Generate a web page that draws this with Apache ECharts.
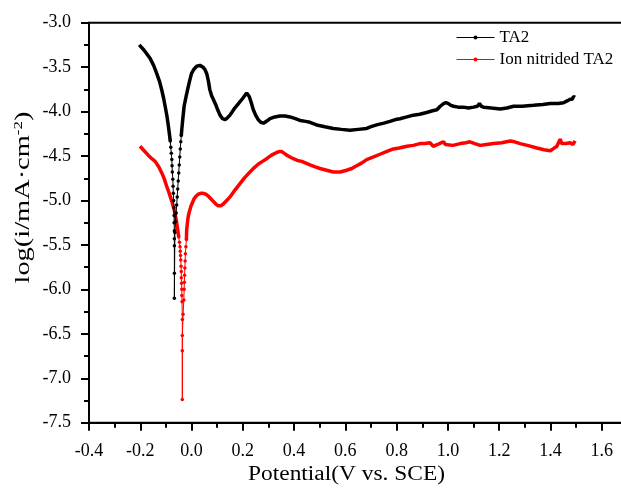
<!DOCTYPE html>
<html>
<head>
<meta charset="utf-8">
<title>Polarization curves</title>
<script src="https://cdn.jsdelivr.net/npm/echarts@6/dist/echarts.min.js"></script>
</head>
<body style="margin:0;background:#fff">
<div id="main" style="width:621px;height:488px;"></div>
<script>
// TA2: cathodic branch, dotted region near Ecorr, anodic branch  [V vs SCE, log i]
var taCathodic = [[-0.204,-3.25],[-0.185,-3.31],[-0.162,-3.40],[-0.148,-3.48],[-0.136,-3.57],[-0.125,-3.66],[-0.116,-3.76],[-0.109,-3.85],[-0.103,-3.94],[-0.096,-4.05],[-0.090,-4.17],[-0.086,-4.26],[-0.083,-4.33]];
var taTail = [[-0.083,-4.33],[-0.081,-4.40],[-0.079,-4.47],[-0.077,-4.54],[-0.076,-4.61],[-0.075,-4.68],[-0.073,-4.76],[-0.072,-4.84],[-0.071,-4.92],[-0.070,-5.00],[-0.069,-5.08],[-0.068,-5.17],[-0.068,-5.25],[-0.067,-5.34],[-0.067,-5.43],[-0.067,-5.51],[-0.067,-5.82],[-0.067,-6.10],
  [-0.065,-5.36],[-0.063,-5.24],[-0.060,-5.14],[-0.058,-5.05],[-0.056,-4.96],[-0.054,-4.87],[-0.052,-4.78],[-0.050,-4.69],[-0.048,-4.60],[-0.046,-4.51],[-0.044,-4.42],[-0.042,-4.34],[-0.040,-4.27]];
var taAnodic = [[-0.040,-4.27],[-0.038,-4.20],[-0.034,-4.08],[-0.029,-3.94],[-0.022,-3.84],[-0.016,-3.76],[-0.008,-3.66],[0.000,-3.57],[0.010,-3.52],[0.020,-3.49],[0.033,-3.48],[0.045,-3.50],[0.053,-3.53],[0.060,-3.58],[0.066,-3.66],[0.071,-3.75],[0.078,-3.82],[0.086,-3.87],[0.094,-3.92],[0.102,-3.98],[0.111,-4.04],[0.121,-4.08],[0.131,-4.09],[0.140,-4.07],[0.150,-4.04],[0.166,-3.97],[0.183,-3.91],[0.200,-3.85],[0.215,-3.79],[0.225,-3.83],[0.233,-3.90],[0.241,-3.98],[0.250,-4.04],[0.260,-4.09],[0.270,-4.12],[0.280,-4.13],[0.292,-4.11],[0.306,-4.08],[0.325,-4.06],[0.345,-4.05],[0.365,-4.05],[0.384,-4.06],[0.405,-4.08],[0.423,-4.10],[0.445,-4.11],[0.462,-4.12],[0.488,-4.15],[0.52,-4.17],[0.553,-4.19],[0.585,-4.20],[0.618,-4.21],[0.65,-4.20],[0.683,-4.19],[0.70,-4.17],[0.722,-4.15],[0.75,-4.13],[0.774,-4.11],[0.795,-4.09],[0.813,-4.08],[0.84,-4.06],[0.865,-4.04],[0.89,-4.03],[0.917,-4.01],[0.94,-3.99],[0.957,-3.98],[0.970,-3.94],[0.983,-3.91],[0.992,-3.90],[1.002,-3.91],[1.012,-3.93],[1.022,-3.94],[1.04,-3.95],[1.06,-3.95],[1.08,-3.96],[1.10,-3.95],[1.115,-3.94],[1.123,-3.91],[1.130,-3.94],[1.139,-3.95],[1.17,-3.96],[1.204,-3.97],[1.23,-3.96],[1.256,-3.94],[1.29,-3.94],[1.334,-3.93],[1.37,-3.92],[1.399,-3.91],[1.43,-3.91],[1.451,-3.90],[1.465,-3.88],[1.477,-3.86],[1.485,-3.86],[1.490,-3.83],[1.496,-3.84]];

// Ion nitrided TA2
var ionCathodic = [[-0.201,-4.39],[-0.185,-4.44],[-0.169,-4.49],[-0.155,-4.53],[-0.142,-4.56],[-0.128,-4.62],[-0.116,-4.69],[-0.106,-4.76],[-0.097,-4.84],[-0.087,-4.92],[-0.077,-5.01],[-0.071,-5.07],[-0.065,-5.14],[-0.059,-5.23],[-0.054,-5.33],[-0.050,-5.41]];
var ionTail = [[-0.050,-5.41],[-0.047,-5.47],[-0.045,-5.52],[-0.044,-5.57],[-0.043,-5.62],[-0.042,-5.67],[-0.041,-5.74],[-0.040,-5.80],[-0.040,-5.87],[-0.039,-5.93],[-0.038,-6.00],[-0.038,-6.07],[-0.037,-6.14],[-0.036,-6.34],[-0.036,-6.69],[-0.036,-7.24],[-0.036,-6.52],[-0.033,-6.28],[-0.030,-6.12],
  [-0.029,-6.00],[-0.028,-5.92],[-0.027,-5.84],[-0.026,-5.76],[-0.025,-5.68],[-0.024,-5.60],[-0.022,-5.52],[-0.020,-5.44]];
var ionAnodic = [[-0.020,-5.44],[-0.019,-5.33],[-0.016,-5.25],[-0.013,-5.18],[-0.008,-5.12],[-0.003,-5.07],[0.004,-5.02],[0.010,-4.98],[0.018,-4.95],[0.026,-4.93],[0.036,-4.92],[0.046,-4.92],[0.056,-4.93],[0.065,-4.95],[0.075,-4.98],[0.085,-5.01],[0.095,-5.04],[0.104,-5.06],[0.114,-5.06],[0.124,-5.04],[0.137,-5.00],[0.150,-4.96],[0.170,-4.88],[0.189,-4.81],[0.208,-4.74],[0.228,-4.68],[0.245,-4.63],[0.261,-4.59],[0.277,-4.56],[0.293,-4.53],[0.312,-4.49],[0.332,-4.46],[0.342,-4.45],[0.352,-4.45],[0.362,-4.47],[0.371,-4.49],[0.384,-4.51],[0.397,-4.53],[0.413,-4.55],[0.430,-4.56],[0.446,-4.58],[0.462,-4.60],[0.480,-4.62],[0.501,-4.64],[0.527,-4.66],[0.553,-4.68],[0.58,-4.68],[0.605,-4.66],[0.625,-4.64],[0.644,-4.61],[0.663,-4.58],[0.683,-4.54],[0.71,-4.51],[0.735,-4.48],[0.76,-4.45],[0.787,-4.42],[0.81,-4.41],[0.84,-4.39],[0.865,-4.38],[0.891,-4.36],[0.91,-4.36],[0.93,-4.35],[0.937,-4.37],[0.943,-4.39],[0.96,-4.37],[0.975,-4.35],[0.983,-4.34],[0.990,-4.37],[0.996,-4.39],[1.02,-4.38],[1.048,-4.36],[1.07,-4.35],[1.086,-4.34],[1.105,-4.36],[1.126,-4.38],[1.15,-4.37],[1.178,-4.36],[1.21,-4.35],[1.243,-4.33],[1.26,-4.34],[1.282,-4.36],[1.31,-4.38],[1.347,-4.41],[1.375,-4.43],[1.399,-4.44],[1.41,-4.42],[1.425,-4.39],[1.433,-4.34],[1.438,-4.31],[1.444,-4.36],[1.451,-4.38],[1.46,-4.36],[1.477,-4.35],[1.488,-4.37],[1.496,-4.33]];

var names = ['TA2', 'Ion nitrided TA2'];
var colors = ['#000000', '#ff0000'];

var FONT = '"Liberation Serif", "Times New Roman", serif';

function thick(name, color, data) {
    return {
        name: name, type: 'line', data: data,
        showSymbol: false, symbol: 'none',
        lineStyle: { color: color, width: 3.5 },
        itemStyle: { color: color },
        silent: true
    };
}
function dotted(name, color, data) {
    return {
        name: name, type: 'line', data: data,
        symbol: 'circle', symbolSize: 3.5, showSymbol: true,
        lineStyle: { color: color, width: 1 },
        itemStyle: { color: color },
        silent: true
    };
}

var myChart = echarts.init(document.getElementById('main'));
var option = {
    animation: false,
    backgroundColor: '#fff',
    grid: {
        left: 89, top: 22.7, width: 564, height: 400,
        outerBoundsMode: 'none', containLabel: false,
        show: true, borderColor: '#000', borderWidth: 2
    },
    legend: {
        data: names,
        orient: 'vertical',
        left: 456, top: 29, padding: 0,
        itemWidth: 38, itemHeight: 5, itemGap: 5,
        lineStyle: { width: 1 },
        textStyle: { fontFamily: FONT, fontSize: 17, color: '#000' }
    },
    // axis titles (the source figure draws them stretched along their length)
    graphic: [
        {
            type: 'text', x: 346.5, y: 475, scaleX: 1.17,
            style: { text: 'Potential(V vs. SCE)', font: '20px ' + FONT, fill: '#000',
                align: 'center', verticalAlign: 'middle' }
        },
        {
            type: 'text', x: 24, y: 197.5, rotation: Math.PI / 2, scaleX: 1.42,
            style: { text: 'log(i/mA·cm{sup|-2})', font: '20px ' + FONT, fill: '#000',
                align: 'center', verticalAlign: 'middle',
                rich: {
                    sup: { font: '12px ' + FONT, fill: '#000', verticalAlign: 'top', lineHeight: 22 }
                } }
        }
    ],
    xAxis: {
        type: 'value', min: -0.4, max: 1.8, interval: 0.2,
        axisLine: { onZero: false, lineStyle: { color: '#000', width: 2 } },
        axisTick: { length: 8, lineStyle: { color: '#000', width: 2 } },
        minorTick: { show: true, splitNumber: 2, length: 5, lineStyle: { color: '#000', width: 2 } },
        axisLabel: { fontFamily: FONT, fontSize: 18, color: '#000', margin: 20,
            formatter: function (v) { return v.toFixed(1); } },
        splitLine: { show: false }
    },
    yAxis: {
        type: 'value', min: -7.5, max: -3.0, interval: 0.5,
        axisLine: { onZero: false, lineStyle: { color: '#000', width: 2 } },
        axisTick: { length: 8, lineStyle: { color: '#000', width: 2 } },
        minorTick: { show: true, splitNumber: 2, length: 5, lineStyle: { color: '#000', width: 2 } },
        axisLabel: { fontFamily: FONT, fontSize: 18, color: '#000', margin: 18,
            formatter: function (v) { return v.toFixed(1); } },
        splitLine: { show: false }
    },
    series: [
        dotted(names[1], colors[1], ionTail),
        thick(names[1], colors[1], ionCathodic),
        thick(names[1], colors[1], ionAnodic),
        dotted(names[0], colors[0], taTail),
        thick(names[0], colors[0], taCathodic),
        thick(names[0], colors[0], taAnodic)
    ]
};
option && myChart.setOption(option);
</script>
</body>
</html>
